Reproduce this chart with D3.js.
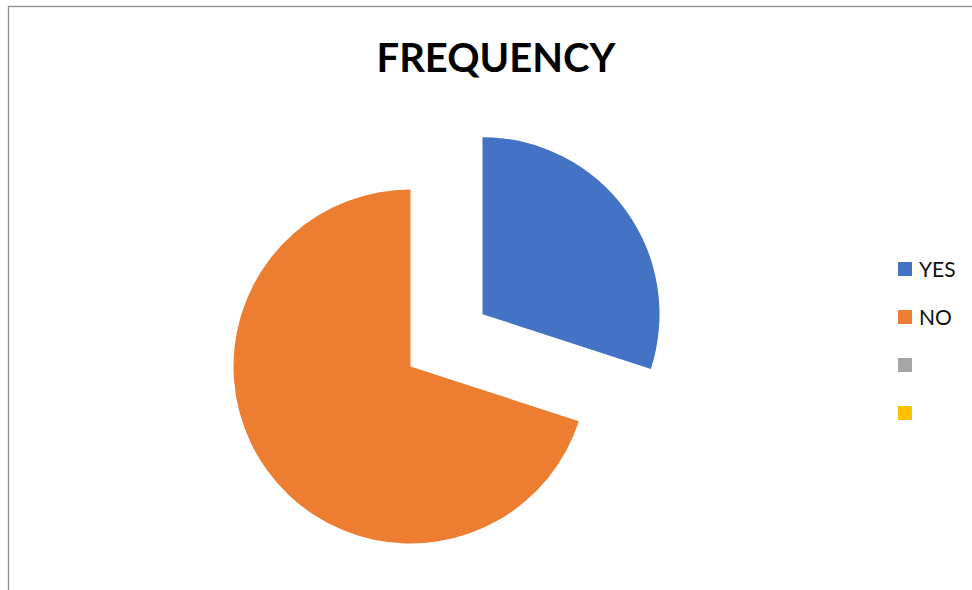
<!DOCTYPE html>
<html>
<head>
<meta charset="utf-8">
<script src="https://cdn.jsdelivr.net/npm/d3@7"></script>
<style>
  body { margin: 0; background: #fff; }
  svg { display: block; }
</style>
</head>
<body>
<svg width="972" height="590"></svg>
<script>
// chart data
const categories = ['YES', 'NO', '', ''];
const frequency = [30, 70, 0, 0];
const colours = ['#4472C4', '#ED7D31', '#A5A5A5', '#FFC000'];
const chartTitle = 'FREQUENCY';

const svg = d3.select('svg');
const font = "Lato, 'Open Sans', sans-serif";

// chart area border (only left and top visible in the picture)
svg.append('rect')
    .attr('x', 8.5)
    .attr('y', 6.5)
    .attr('width', 1000)
    .attr('height', 700)
    .attr('fill', 'none')
    .attr('stroke', '#8c8c8c')
    .attr('stroke-width', 1.3);

svg.append('text')
    .attr('x', 496)
    .attr('y', 72)
    .attr('text-anchor', 'middle')
    .style('font-family', font)
    .style('font-weight', 'bold')
    .style('font-size', '40px')
    .attr('textLength', 239)
    .attr('lengthAdjust', 'spacingAndGlyphs')
    .text(chartTitle);

const cx = 410.5;
const cy = 366.5;
const radius = 177;
const explode = 89;

const pie = d3.pie().sort(null).value(d => d.value);
const arc = d3.arc().innerRadius(0).outerRadius(radius);

const slices = pie(categories.map((c, i) => ({ name: c, value: frequency[i], colour: colours[i] })));

const pieGroup = svg.append('g').attr('transform', 'translate(' + cx + ',' + cy + ')');

pieGroup.selectAll('path')
    .data(slices.filter(d => d.value > 0))
    .join('path')
    .attr('d', arc)
    .attr('fill', d => d.data.colour)
    .attr('transform', (d, i) => {
        // first slice is pulled out
        if (i != 0) return null;
        const mid = (d.startAngle + d.endAngle) / 2;
        return 'translate(' + (Math.sin(mid) * explode) + ',' + (-Math.cos(mid) * explode) + ')';
    });

// legend
const legend = svg.append('g').attr('transform', 'translate(898,269)');
const rows = legend.selectAll('g')
    .data(categories)
    .join('g')
    .attr('transform', (d, i) => 'translate(0,' + (i * 48) + ')');

rows.append('rect')
    .attr('x', 0)
    .attr('y', -7)
    .attr('width', 14)
    .attr('height', 14)
    .attr('fill', (d, i) => colours[i]);

rows.append('text')
    .attr('x', 21)
    .attr('y', 7.5)
    .style('font-family', font)
    .style('font-size', '21px')
    .style('fill', '#111')
    .text(d => d);
</script>
</body>
</html>
